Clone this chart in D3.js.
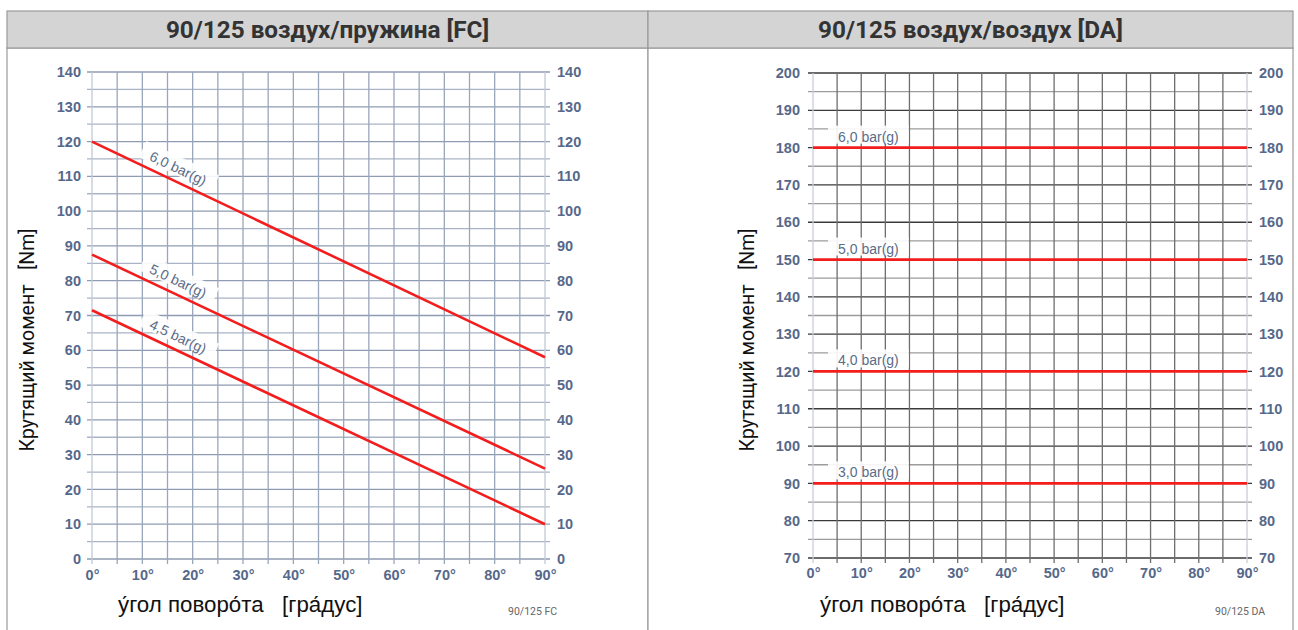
<!DOCTYPE html>
<html>
<head>
<meta charset="utf-8">
<script src="https://cdn.jsdelivr.net/npm/d3@7"></script>
<style>
  body { margin: 0; background: #fff; }
  svg { display: block; font-family: Roboto, "Liberation Sans", sans-serif; }
  .tick text { font-family: "Liberation Sans", Arial, sans-serif; font-weight: bold; font-size: 14.5px; fill: #56688a; }
  .pre { white-space: pre; }
</style>
</head>
<body>
<svg id="chart" width="1298" height="630"></svg>
<script>
// shared x axis: rotation angle in degrees
var angleTicks = [0, 10, 20, 30, 40, 50, 60, 70, 80, 90];
var angleLabels = ["0°", "10°", "20°", "30°", "40°", "50°", "60°", "70°", "80°", "90°"];

// left chart: air / spring (FC), torque falls linearly with angle
var fcTitle = "90/125 воздух/пружина [FC]";
var fcCode = "90/125 FC";
var fcPressures = ["6,0 bar(g)", "5,0 bar(g)", "4,5 bar(g)"];
var fcTorqueAt0 = [120, 87.5, 71.5];
var fcTorqueAt90 = [58, 26, 10];
var fcTorqueTicks = [0, 10, 20, 30, 40, 50, 60, 70, 80, 90, 100, 110, 120, 130, 140];

// right chart: air / air (DA), torque constant over the stroke
var daTitle = "90/125 воздух/воздух [DA]";
var daCode = "90/125 DA";
var daPressures = ["6,0 bar(g)", "5,0 bar(g)", "4,0 bar(g)", "3,0 bar(g)"];
var daTorque = [180, 150, 120, 90];
var daTorqueTicks = [70, 80, 90, 100, 110, 120, 130, 140, 150, 160, 170, 180, 190, 200];

var yTitle = "Крутящий момент   [Nm]";
var xTitle = "у́гол поворо́та   [гра́дус]";

var svg = d3.select("#chart");

function drawPanel(p) {
  var g = svg.append("g");
  // body box + grey header strip
  g.append("rect").attr("x", p.left).attr("y", 48).attr("width", p.right - p.left).attr("height", 600)
    .attr("fill", "#fff").attr("stroke", "#9a9a9a").attr("stroke-width", 1.2);
  g.append("rect").attr("x", p.left).attr("y", 11).attr("width", p.right - p.left).attr("height", 37)
    .attr("fill", "#d4d4d4").attr("stroke", "#9a9a9a").attr("stroke-width", 1.2);
  g.append("text").attr("x", (p.left + p.right) / 2).attr("y", 38)
    .attr("text-anchor", "middle").attr("font-size", 24.3).attr("font-weight", "bold").attr("fill", "#333")
    .text(p.title);

  var x = d3.scaleLinear().domain([0, 90]).range([p.x0, p.x1]);
  var y = d3.scaleLinear().domain(p.yDomain).range([p.y1, p.y0]);

  // grid, every 5 units / 5 degrees
  var grid = g.append("g");
  d3.range(p.yDomain[0], p.yDomain[1] + 1, 5).forEach(function(v) {
    var major = v % 10 === 0;
    grid.append("line").attr("x1", p.x0 - 5).attr("x2", p.x1 + 5).attr("y1", y(v)).attr("y2", y(v))
      .attr("stroke", major ? p.hMajor : p.hMinor).attr("stroke-width", 1.3);
  });
  d3.range(0, 91, 5).forEach(function(a) {
    grid.append("line").attr("x1", x(a)).attr("x2", x(a)).attr("y1", p.y0).attr("y2", p.y1 + 5)
      .attr("stroke", (a === 0 || a === 90) ? p.edge : p.vLine).attr("stroke-width", 1.3);
  });

  // tick labels
  g.append("g").attr("transform", "translate(" + p.x0 + ",0)")
    .call(d3.axisLeft(y).tickValues(p.yTicks).tickSize(0).tickPadding(p.padL))
    .call(function(s) { s.select(".domain").remove(); });
  g.append("g").attr("transform", "translate(" + p.x1 + ",0)")
    .call(d3.axisRight(y).tickValues(p.yTicks).tickSize(0).tickPadding(12))
    .call(function(s) { s.select(".domain").remove(); });
  g.append("g").attr("transform", "translate(0," + p.y1 + ")")
    .call(d3.axisBottom(x).tickValues(angleTicks).tickSize(0).tickPadding(p.padB)
      .tickFormat(function(d, i) { return angleLabels[i]; }))
    .call(function(s) { s.select(".domain").remove(); });

  // axis titles
  g.append("text").attr("class", "pre")
    .attr("transform", "translate(" + p.yTitleX + ",340) rotate(-90)")
    .attr("text-anchor", "middle").attr("font-size", 19.5).attr("fill", "#111").text(yTitle);
  g.append("text").attr("class", "pre").attr("x", p.xTitleX).attr("y", 612)
    .attr("font-family", "'Liberation Sans', Arial, sans-serif")
    .attr("font-size", 22.3).attr("fill", "#111").text(xTitle);
  g.append("text").attr("x", p.codeX).attr("y", 615)
    .attr("font-size", 10.5).attr("fill", "#666").text(p.code);

  return { g: g, x: x, y: y };
}

function lineLabel(g, px, py, rot, anchor, text, dy) {
  var lg = g.append("g").attr("transform", "translate(" + px + "," + py + ") rotate(" + rot + ")");
  var t = lg.append("text").attr("x", 0).attr("y", dy).attr("text-anchor", anchor)
    .attr("font-family", "'Liberation Sans', Arial, sans-serif")
    .attr("font-size", 14).attr("fill", "#5b6c88").text(text);
  var b = t.node().getBBox();
  lg.insert("rect", "text").attr("x", b.x - 10).attr("y", b.y - 3)
    .attr("width", b.width + 20).attr("height", b.height + 2).attr("fill", "#fff").attr("opacity", 0.9);
}

// ---- left: FC ----
var fc = drawPanel({
  left: 7, right: 648, title: fcTitle, code: fcCode,
  x0: 92, x1: 545, y0: 72, y1: 559, yDomain: [0, 140], yTicks: fcTorqueTicks,
  hMajor: "#8e9bb2", hMinor: "#a9b3c5", vLine: "#9aa6ba", edge: "#c2cad6",
  padL: 11, padB: 11, yTitleX: 34, xTitleX: 118, codeX: 508
});

fcPressures.forEach(function(name, i) {
  var a0 = fcTorqueAt0[i], a90 = fcTorqueAt90[i];
  var rot = Math.atan2(fc.y(a90) - fc.y(a0), fc.x(90) - fc.x(0)) * 180 / Math.PI;
  var at = 16;
  var v = a0 + (a90 - a0) * at / 90;
  lineLabel(fc.g, fc.x(at), fc.y(v), rot, "middle", name, -8);
});
fc.g.selectAll("line.series").data(fcPressures).enter().append("line").attr("class", "series")
  .attr("x1", fc.x(0)).attr("x2", fc.x(90))
  .attr("y1", function(d, i) { return fc.y(fcTorqueAt0[i]); })
  .attr("y2", function(d, i) { return fc.y(fcTorqueAt90[i]); })
  .attr("stroke", "#f31d1d").attr("stroke-width", 2.6);

// ---- right: DA ----
var da = drawPanel({
  left: 648, right: 1293, title: daTitle, code: daCode,
  x0: 813, x1: 1247, y0: 73, y1: 558, yDomain: [70, 200], yTicks: daTorqueTicks,
  hMajor: "#3a3a3a", hMinor: "#9c9c9c", vLine: "#6e6e6e", edge: "#c9ced6",
  padL: 13, padB: 10, yTitleX: 754, xTitleX: 820, codeX: 1215
});

daPressures.forEach(function(name, i) {
  lineLabel(da.g, da.x(5.2), da.y(daTorque[i]), 0, "start", name, -6);
});
da.g.selectAll("line.series").data(daTorque).enter().append("line").attr("class", "series")
  .attr("x1", da.x(0)).attr("x2", da.x(90))
  .attr("y1", function(d) { return da.y(d); })
  .attr("y2", function(d) { return da.y(d); })
  .attr("stroke", "#f31d1d").attr("stroke-width", 2.8);
</script>
</body>
</html>
